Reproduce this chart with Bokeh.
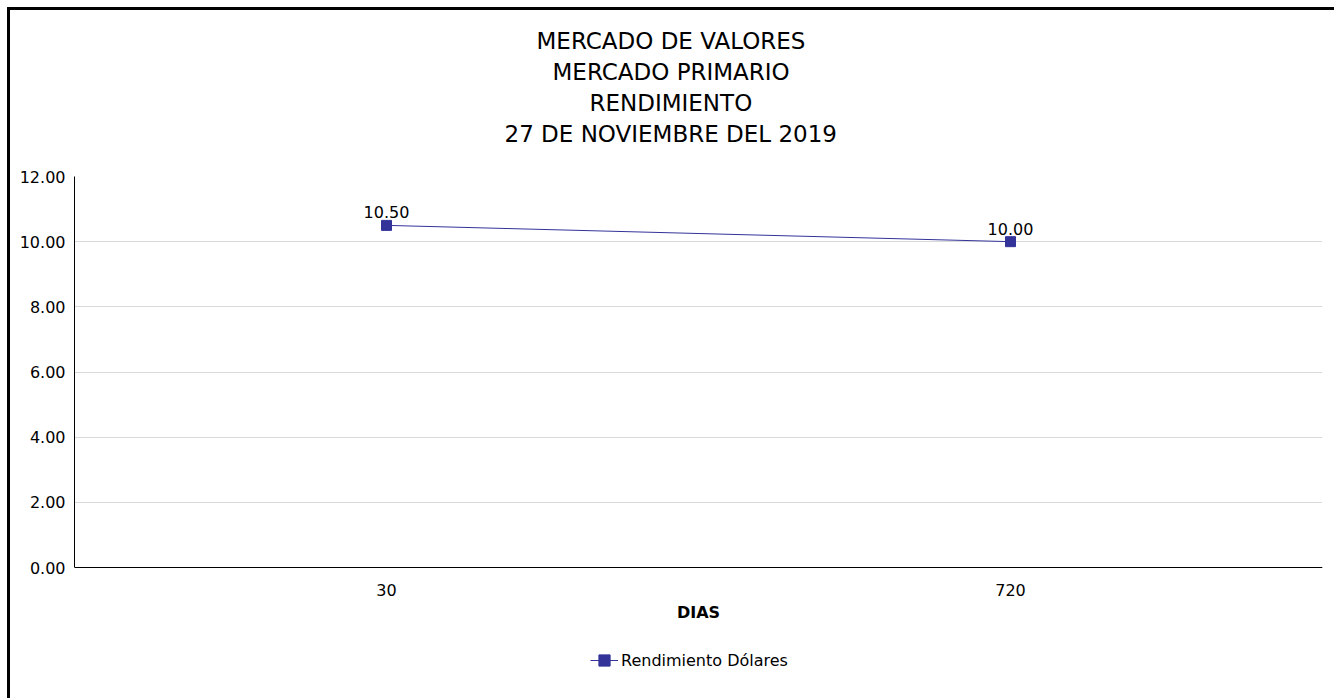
from bokeh.plotting import figure
from bokeh.models import (ColumnDataSource, Title, LabelSet, Legend, LegendItem,
                          FixedTicker, NumeralTickFormatter, Range1d)
from bokeh.core.properties import value
from bokeh.embed import file_html
from bokeh.resources import INLINE

# ---- data ----
dias = ["30", "720"]
rendimiento = [10.50, 10.00]
etiquetas = ["10.50", "10.00"]
y_ticks = [0, 2, 4, 6, 8, 10, 12]
y_max = 12
titulo = ["MERCADO DE VALORES", "MERCADO PRIMARIO", "RENDIMIENTO",
          "27 DE NOVIEMBRE DEL 2019"]
serie = "Rendimiento Dólares"
eje_x = "DIAS"

FONT = "DejaVu Sans"
COLOR = "#333399"

# frame geometry: 0..12 spans 391 px; the frame continues 131 px below zero
PLOT_H = 391
BELOW = 131
y_min = -BELOW * y_max / PLOT_H

src = ColumnDataSource(dict(x=dias, y=rendimiento, lbl=etiquetas))

p = figure(x_range=dias, y_range=Range1d(y_min, y_max),
           frame_width=1248, frame_height=PLOT_H + BELOW,
           output_backend="svg", toolbar_location=None,
           min_border_left=64, min_border_top=166, min_border_right=12,
           min_border_bottom=0)
p.styles = {"margin-left": "7px", "margin-top": "7px",
            "border-left": "3px solid black", "border-top": "3px solid black"}
p.outline_line_color = None
p.background_fill_color = "white"
p.border_fill_color = "white"

p.xgrid.visible = False
p.ygrid.grid_line_color = "#d9d9d9"
p.ygrid.grid_line_width = 1

for ax in (p.xaxis[0], p.yaxis[0]):
    ax.axis_line_color = "black"
    ax.major_tick_in = 0
    ax.major_tick_out = 0
    ax.minor_tick_in = 0
    ax.minor_tick_out = 0
    ax.major_label_text_font = FONT
    ax.major_label_text_font_size = "16px"
    ax.major_label_text_color = "black"

p.yaxis.ticker = FixedTicker(ticks=y_ticks)
p.yaxis.formatter = NumeralTickFormatter(format="0.00")
p.yaxis.bounds = (0, y_max)
p.yaxis.major_label_standoff = 9

p.xaxis.fixed_location = 0
p.xaxis.major_label_standoff = 16
p.xaxis.axis_label = eje_x
p.xaxis.axis_label_text_font = FONT
p.xaxis.axis_label_text_font_size = "16px"
p.xaxis.axis_label_text_font_style = "bold"
p.xaxis.axis_label_text_color = "black"
p.xaxis.axis_label_standoff = 4

line_r = p.line("x", "y", source=src, line_color=COLOR, line_width=1)
pts_r = p.scatter("x", "y", source=src, marker="square", size=10,
                  fill_color=COLOR, line_color=COLOR)

labels = LabelSet(x="x", y="y", text="lbl", source=src, text_align="center",
                  text_baseline="alphabetic", y_offset=7,
                  text_font=value(FONT), text_font_size=value("16px"),
                  text_color="black")
p.add_layout(labels)

# titles: innermost first (a spacer, then lines bottom-up), left-aligned with offsets
p.add_layout(Title(text=" ", align="left", standoff=0, text_font=FONT,
                   text_font_size="23px"), "above")
offsets = [462, 478, 515, 430]
for t, off in reversed(list(zip(titulo, offsets))):
    p.add_layout(Title(text=t, align="left", offset=off, standoff=3,
                       text_font=FONT, text_font_size="23px",
                       text_font_style="normal", text_color="black"), "above")

legend = Legend(items=[LegendItem(label=serie, renderers=[line_r, pts_r])],
                orientation="horizontal", location=(516, 24),
                border_line_alpha=0, background_fill_alpha=0,
                label_text_font=FONT, label_text_font_size="16px",
                label_text_color="black",
                glyph_width=28, glyph_height=28, label_standoff=3,
                margin=0, padding=0)
p.add_layout(legend)

open("out.html", "w").write(file_html(p, INLINE))
